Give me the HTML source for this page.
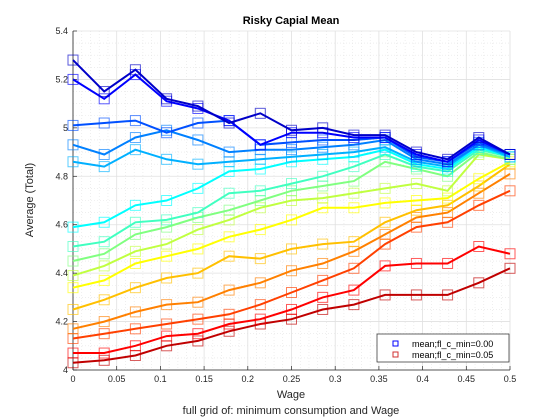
<!DOCTYPE html>
<html><head><meta charset="utf-8"><style>
body{margin:0;background:#fff;}
svg{display:block;font-family:"Liberation Sans",sans-serif;}
</style></head><body>
<svg id="chart" width="560" height="420">
<rect x="0" y="0" width="560" height="420" fill="#fff"/>
<g id="grid"></g>
<g id="axes"></g>
<g id="series"></g>
<text x="291" y="24" text-anchor="middle" font-size="11" font-weight="bold" fill="#000">Risky Capial Mean</text>
<text x="291" y="398" text-anchor="middle" font-size="11" fill="#262626">Wage</text>
<text x="291" y="414" text-anchor="middle" font-size="11" fill="#262626">full grid of: minimum consumption and Wage</text>
<text x="0" y="0" transform="translate(33,200) rotate(-90)" text-anchor="middle" font-size="11" fill="#262626">Average (Total)</text>
<g>
<rect x="377" y="334" width="132" height="28" fill="#fff" stroke="#262626" stroke-width="0.7"/>
<rect x="393" y="341" width="5" height="5" fill="none" stroke="#0000ff" stroke-width="1"/>
<text x="412" y="347" font-size="9" fill="#000">mean;fl_c_min=0.00</text>
<rect x="393" y="352" width="5" height="5" fill="none" stroke="#d03030" stroke-width="1"/>
<text x="412" y="358" font-size="9" fill="#000">mean;fl_c_min=0.05</text>
</g>
</svg>
<script>
const xValues=[0,0.0357,0.0714,0.1071,0.1429,0.1786,0.2143,0.25,0.2857,0.3214,0.3571,0.3929,0.4286,0.4643,0.5];
const xTicks=[0,0.05,0.1,0.15,0.2,0.25,0.3,0.35,0.4,0.45,0.5];
const xTickLabels=["0","0.05","0.1","0.15","0.2","0.25","0.3","0.35","0.4","0.45","0.5"];
const yTicks=[4,4.2,4.4,4.6,4.8,5,5.2,5.4];
const yTickLabels=["4","4.2","4.4","4.6","4.8","5","5.2","5.4"];
const seriesColors=["#0000c8","#0000ff","#0050ff","#0080ff","#00b0ff","#00ffff","#40ffc0","#80ff80","#c0ff40","#ffff00","#ffc000","#ff8000","#ff4000","#ff0000","#c00000"];
const s1=[5.28,5.15,5.24,5.12,5.09,5.02,5.06,4.99,5.00,4.97,4.97,4.90,4.87,4.96,4.89];
const s2=[5.20,5.12,5.22,5.11,5.08,5.03,4.93,4.98,4.98,4.96,4.96,4.89,4.86,4.95,4.89];
const s3=[5.01,5.02,5.03,4.98,5.02,5.03,4.93,4.94,4.95,4.95,4.96,4.88,4.86,4.94,4.89];
const s4=[4.93,4.89,4.96,4.99,4.95,4.90,4.91,4.91,4.92,4.93,4.95,4.87,4.85,4.93,4.89];
const s5=[4.86,4.84,4.91,4.87,4.85,4.86,4.87,4.88,4.89,4.90,4.92,4.86,4.84,4.93,4.88];
const s6=[4.59,4.61,4.68,4.70,4.75,4.82,4.83,4.86,4.87,4.88,4.91,4.85,4.83,4.92,4.88];
const s7=[4.51,4.53,4.61,4.62,4.65,4.73,4.74,4.77,4.80,4.84,4.89,4.84,4.82,4.91,4.88];
const s8=[4.45,4.48,4.56,4.59,4.63,4.66,4.70,4.74,4.76,4.78,4.86,4.83,4.80,4.90,4.87];
const s9=[4.39,4.43,4.49,4.52,4.58,4.62,4.67,4.70,4.71,4.73,4.75,4.77,4.74,4.89,4.87];
const s10=[4.34,4.37,4.44,4.47,4.50,4.55,4.58,4.62,4.67,4.67,4.69,4.70,4.71,4.79,4.86];
const s11=[4.25,4.29,4.34,4.38,4.40,4.47,4.46,4.50,4.52,4.53,4.61,4.66,4.68,4.76,4.85];
const s12=[4.17,4.20,4.24,4.27,4.28,4.33,4.36,4.41,4.44,4.49,4.56,4.63,4.65,4.73,4.81];
const s13=[4.13,4.15,4.17,4.19,4.21,4.23,4.27,4.32,4.37,4.42,4.52,4.59,4.61,4.68,4.74];
const s14=[4.07,4.07,4.10,4.14,4.15,4.19,4.21,4.25,4.30,4.33,4.43,4.44,4.44,4.51,4.48];
const s15=[4.03,4.04,4.06,4.10,4.12,4.16,4.19,4.21,4.25,4.27,4.31,4.31,4.31,4.36,4.42];
const allSeries=[s1,s2,s3,s4,s5,s6,s7,s8,s9,s10,s11,s12,s13,s14,s15];

const L=73,R=510,T=31,B=370,xMin=0,xMax=0.5,yMin=4,yMax=5.4;
function xs(v){return L+(v-xMin)/(xMax-xMin)*(R-L);}
function ys(v){return B-(v-yMin)/(yMax-yMin)*(B-T);}
const NS="http://www.w3.org/2000/svg";
function mk(tag,attrs,parent){const e=document.createElementNS(NS,tag);for(const k in attrs)e.setAttribute(k,attrs[k]);parent.appendChild(e);return e;}
const grid=document.getElementById('grid'),axes=document.getElementById('axes'),ser=document.getElementById('series');
for(let i=0;i<xTicks.length-1;i++){for(let j=1;j<5;j++){const v=xTicks[i]+(xTicks[i+1]-xTicks[i])*j/5;
const g=mk('line',{x1:xs(v),x2:xs(v),y1:T,y2:B,stroke:'#e4e4e4','stroke-width':0.6,'stroke-dasharray':'1,2'},grid);

}}
for(let i=0;i<yTicks.length-1;i++){for(let j=1;j<4;j++){const v=yTicks[i]+(yTicks[i+1]-yTicks[i])*j/4;
const g=mk('line',{x1:L,x2:R,y1:ys(v),y2:ys(v),stroke:'#e4e4e4','stroke-width':0.6,'stroke-dasharray':'1,2'},grid);

}}
xTicks.forEach((v,i)=>{
const g=mk('line',{x1:xs(v),x2:xs(v),y1:T,y2:B,stroke:'#e0e0e0','stroke-width':0.8},grid);


const t=mk('line',{x1:xs(v),x2:xs(v),y1:B,y2:B-4,stroke:'#262626','stroke-width':0.7},axes);


const lb=mk('text',{x:xs(v),y:B+12,'text-anchor':'middle','font-size':9,fill:'#262626'},axes);
lb.textContent=xTickLabels[i];


});
yTicks.forEach((v,i)=>{
const g=mk('line',{x1:L,x2:R,y1:ys(v),y2:ys(v),stroke:'#e0e0e0','stroke-width':0.8},grid);


const t=mk('line',{x1:L,x2:L+4,y1:ys(v),y2:ys(v),stroke:'#262626','stroke-width':0.7},axes);


const lb=mk('text',{x:L-5,y:ys(v)+3,'text-anchor':'end','font-size':9,fill:'#262626'},axes);
lb.textContent=yTickLabels[i];


});
const xa=mk('line',{x1:L,x2:R,y1:B,y2:B,stroke:'#262626','stroke-width':0.8},axes);


const ya=mk('line',{x1:L,x2:L,y1:T,y2:B,stroke:'#262626','stroke-width':0.8},axes);


for(let k=allSeries.length-1;k>=0;k--){
const d=allSeries[k],c=seriesColors[k];
const pts=d.map((v,i)=>xs(xValues[i]).toFixed(1)+','+ys(v).toFixed(1)).join(' ');
const pl=mk('polyline',{points:pts,fill:'none',stroke:c,'stroke-width':2},ser);


d.forEach((v,i)=>{
const m=mk('rect',{x:xs(xValues[i])-5,y:ys(v)-5,width:10,height:10,fill:'none',stroke:c,'stroke-width':1,opacity:0.65},ser);


});
}
</script>
</body></html>
